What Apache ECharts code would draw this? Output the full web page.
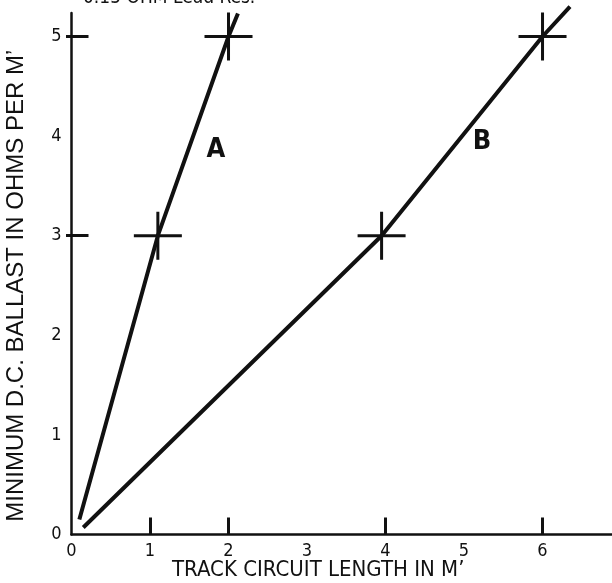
<!DOCTYPE html>
<html>
<head>
<meta charset="utf-8">
<script src="https://cdn.jsdelivr.net/npm/echarts@6/dist/echarts.min.js"></script>
<style>html,body{margin:0;padding:0;background:#fff;}#c{width:612px;height:583px;}</style>
</head>
<body>
<div id="c"></div>
<script>
// ---- data ----
const xTickLabels = [0, 1, 2, 3, 4, 5, 6];
const xTickMarks = [1, 2, 4, 6];
const yTickLabels = [0, 1, 2, 3, 4, 5];
const yTickMarks = [3, 5];
const lineA = [[0.1, 0.15], [1.1, 3], [2, 5], [2.12, 5.23]];
const lineB = [[0.15, 0.07], [3.95, 3], [6, 5], [6.35, 5.3]];
const pointsA = [[1.1, 3], [2, 5]];
const pointsB = [[3.95, 3], [6, 5]];
const seriesNames = ['A', 'B'];
const noteText = '0.15 OHM Lead Res.';
const xName = 'TRACK CIRCUIT LENGTH IN M\u2019';
const yName = 'MINIMUM D.C. BALLAST IN OHMS PER M\u2019';

const FONT = "'Liberation Sans Narrow', 'DejaVu Sans Condensed', 'Arial Narrow', sans-serif";
const FONT_WIDE = "'Liberation Sans', Arial, sans-serif";
const INK = '#111';

const chart = echarts.init(document.getElementById('c'), null, {renderer: 'canvas'});
const crossSymbol = 'path://M1 0 L1 2 M0 1 L2 1';

const option = {
  animation: false,
  backgroundColor: '#fff',
  textStyle: {fontFamily: FONT, color: INK},
  grid: {left: 71.5, right: 0, top: 13, bottom: 48.5, containLabel: false, outerBoundsMode: 'none'},
  graphic: [{
    type: 'text', x: 83, y: 8,
    style: {text: noteText, font: '19px ' + FONT, fill: INK, verticalAlign: 'bottom'}
  }],
  xAxis: {
    type: 'value', min: 0, max: 6.885,
    axisLine: {lineStyle: {color: INK, width: 2.5}},
    axisTick: {show: true, inside: true, length: 17, customValues: xTickMarks, lineStyle: {color: INK, width: 3}},
    axisLabel: {customValues: xTickLabels, margin: 8, fontSize: 18, color: INK, fontFamily: FONT},
    splitLine: {show: false},
    name: xName, nameLocation: 'middle', nameGap: 25, nameMoveOverlap: false,
    nameTextStyle: {fontSize: 22, color: INK, fontFamily: FONT, padding: [0, 47, 0, 0]}
  },
  yAxis: [{
    type: 'value', min: 0, max: 5.236, position: 'left',
    axisLine: {lineStyle: {color: INK, width: 2.5}},
    axisTick: {show: true, inside: true, length: 17, customValues: yTickMarks, lineStyle: {color: INK, width: 3}},
    axisLabel: {customValues: yTickLabels, margin: 10, fontSize: 18, color: INK, fontFamily: FONT},
    splitLine: {show: false},
    name: yName, nameLocation: 'middle', nameGap: 43, nameMoveOverlap: false,
    nameTextStyle: {fontSize: 24, color: INK, fontFamily: FONT_WIDE, padding: [0, 24, 0, 0]}
  }, {
    type: 'value', min: 0, max: 5.236, position: 'left', offset: 0,
    axisLine: {show: false},
    axisTick: {show: true, inside: false, length: 5.5, customValues: yTickMarks, lineStyle: {color: INK, width: 3}},
    axisLabel: {show: false},
    splitLine: {show: false}
  }],
  series: [
    {name: seriesNames[0], type: 'line', data: lineA, symbol: 'none', clip: false,
     lineStyle: {color: INK, width: 4}},
    {name: seriesNames[1], type: 'line', data: lineB, symbol: 'none', clip: false,
     lineStyle: {color: INK, width: 4}},
    {type: 'scatter', data: pointsA.concat(pointsB), symbol: crossSymbol, symbolSize: [48, 48],
     itemStyle: {color: 'rgba(0,0,0,0)', borderColor: INK, borderWidth: 3, opacity: 1}, clip: false, z: 3},
    {type: 'scatter', symbol: 'circle', symbolSize: 1, clip: false,
     itemStyle: {color: 'rgba(0,0,0,0)', opacity: 1},
     data: [{value: [1.84, 3.86], name: seriesNames[0]}, {value: [5.23, 3.94], name: seriesNames[1]}],
     label: {show: true, position: 'inside', formatter: '{b}', fontSize: 27, fontWeight: 'bold', color: INK, fontFamily: FONT}}
  ]
};
chart.setOption(option);
</script>
</body>
</html>
